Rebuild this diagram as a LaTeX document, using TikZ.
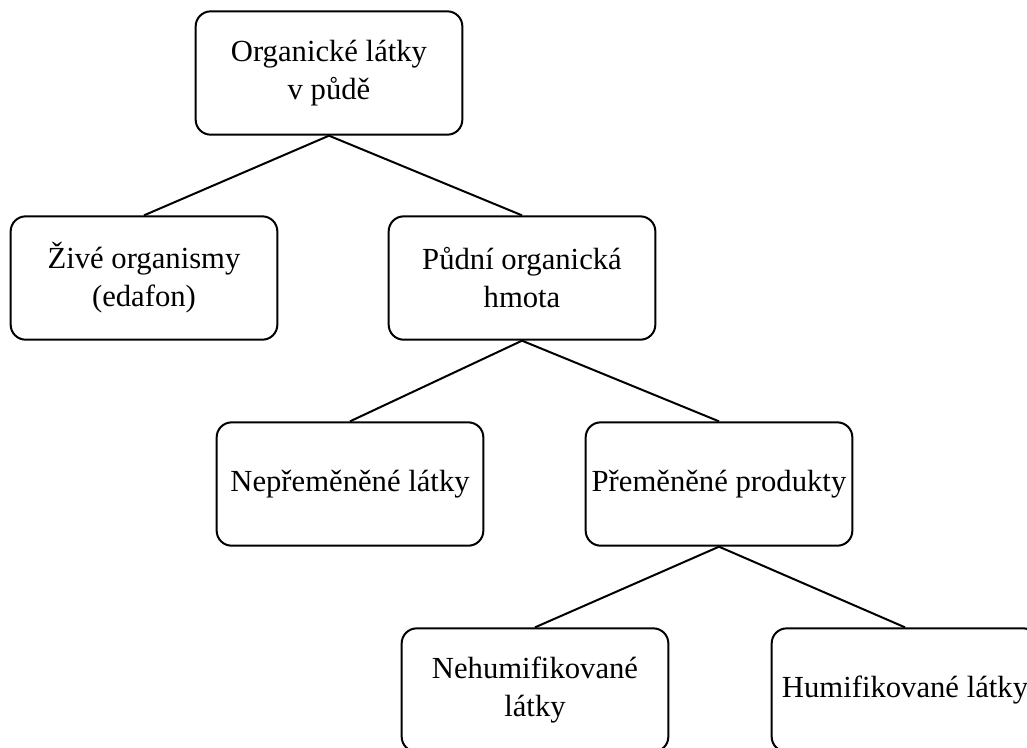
\documentclass[tikz,border=0pt]{standalone}
\usepackage{fontspec}
\setmainfont{Liberation Serif}
\usepackage{tikz}

\begin{document}
\begin{tikzpicture}[x=0.3pt, y=-0.3pt,
  box/.style={draw, semithick, rounded corners=4.5pt, minimum width=80pt, minimum height=37pt,
    align=center, inner sep=1pt, font=\fontsize{9.2}{11.4}\selectfont},
  link/.style={semithick}]
\newcommand{\LvlA}{73}; % row of the root
\newcommand{\LvlB}{278}; % second row
\newcommand{\LvlC}{484}; % third row
\newcommand{\LvlD}{690}; % bottom row, cut by the page

\useasboundingbox (0,0) rectangle (1027,747);
\clip (0,0) rectangle (1027,747);

% boxes
\node[box] (soil)     at (329, \LvlA) {Organické látky\\v půdě};
\node[box] (living)   at (144, \LvlB) {Živé organismy\\(edafon)};
\node[box] (matter)   at (522, \LvlB) {Půdní organická\\hmota};
\node[box] (raw)      at (350, \LvlC) {Nepřeměněné látky};
\node[box] (changed)  at (719, \LvlC) {Přeměněné produkty};
\node[box] (nonhumic) at (535, \LvlD) {Nehumifikované\\látky};
\node[box] (humic)    at (905, \LvlD) {Humifikované látky};
%

% branches
\draw[link] (soil.south) -- (living.north);
\draw[link] (soil.south) -- (matter.north);
\draw[link] (matter.south) -- (raw.north);
\draw[link] (matter.south) -- (changed.north);
\draw[link] (changed.south) -- (nonhumic.north);
\draw[link] (changed.south) -- (humic.north);
\end{tikzpicture}
\end{document}
